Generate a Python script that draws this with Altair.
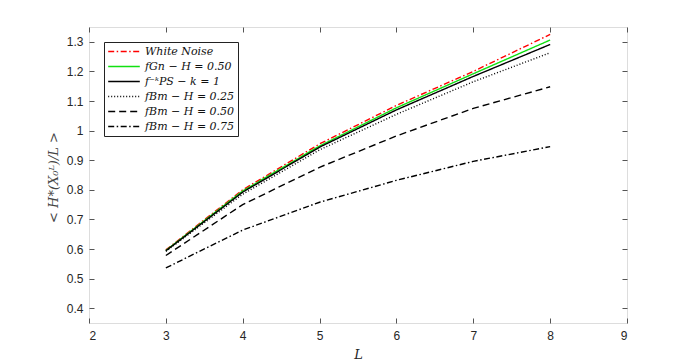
import altair as alt
import pandas as pd

L = [3, 4, 5, 6, 7, 8]
series = [
    "White Noise",
    "fGn − H = 0.50",
    "f⁻ᵏPS − k = 1",
    "fBm − H = 0.25",
    "fBm − H = 0.50",
    "fBm − H = 0.75",
]
white = [0.597, 0.800, 0.955, 1.085, 1.200, 1.325]
fgn = [0.595, 0.796, 0.948, 1.077, 1.192, 1.306]
fkps = [0.594, 0.792, 0.944, 1.070, 1.183, 1.291]
fbm25 = [0.592, 0.785, 0.935, 1.055, 1.165, 1.263]
fbm50 = [0.578, 0.750, 0.876, 0.982, 1.075, 1.148]
fbm75 = [0.536, 0.664, 0.758, 0.832, 0.896, 0.946]
values = [white, fgn, fkps, fbm25, fbm50, fbm75]

xticks = [2, 3, 4, 5, 6, 7, 8, 9]
yticks = [0.4, 0.5, 0.6, 0.7, 0.8, 0.9, 1.0, 1.1, 1.2, 1.3]

colors = ["#ff0000", "#11e011", "#000000", "#000000", "#000000", "#000000"]
dashes = [[6, 2.5, 1.5, 2.5], [1, 0], [1, 0], [1, 2], [7, 4], [6, 2.5, 1.5, 2.5]]

rows = []
for name, vals in zip(series, values):
    for l, v in zip(L, vals):
        rows.append({"L": l, "H": v, "series": name})
df = pd.DataFrame(rows)

tickfont = "Liberation Sans"
tickcolor = "#262626"

xscale = alt.Scale(domain=[2, 9], nice=False, zero=False)
yscale = alt.Scale(domain=[0.35, 1.35], nice=False, zero=False)

legend_kw = dict(title=None, orient="none", legendX=15, legendY=15,
                 symbolType="stroke", symbolSize=1000,
                 symbolStrokeWidth=1.5, labelFont="DejaVu Serif",
                 labelFontStyle="italic", labelFontSize=11,
                 labelColor="#111111",
                 strokeColor="#222222", fillColor="white",
                 padding=3, rowPadding=2, clipHeight=13,
                 labelOffset=4)

lines = alt.Chart(df).mark_line(strokeWidth=1.4).encode(
    x=alt.X("L:Q", scale=xscale,
            axis=alt.Axis(values=xticks, title="L", grid=False, domain=False,
                          tickSize={"expr": "-5"}, tickColor="#555555",
                          labelPadding=12, labelFont=tickfont, labelFontSize=12,
                          labelColor=tickcolor, titleFont="DejaVu Serif",
                          titleFontStyle="italic", titleFontWeight="normal",
                          titleFontSize=13, titleColor=tickcolor,
                          titleY=35, titleBaseline="alphabetic")),
    y=alt.Y("H:Q", scale=yscale,
            axis=alt.Axis(values=yticks, title="< H*(X₀ᴸ)/L >", grid=False, domain=False,
                          format=".1~f",
                          tickSize={"expr": "-5"}, tickColor="#555555",
                          labelPadding=11, labelFont=tickfont, labelFontSize=12,
                          labelColor=tickcolor, titleFont="DejaVu Serif",
                          titleFontStyle="italic", titleFontWeight="normal",
                          titleFontSize=13, titleColor="#444444",
                          titleX=-29, titleY=150, titleAngle=-90,
                          titleBaseline="bottom", titleAlign="center")),
    color=alt.Color("series:N", sort=series,
                    scale=alt.Scale(domain=series, range=colors),
                    legend=alt.Legend(**legend_kw)),
    strokeDash=alt.StrokeDash("series:N", sort=series,
                              scale=alt.Scale(domain=series, range=dashes),
                              legend=alt.Legend(**legend_kw)),
    order=alt.Order("L:Q"),
)

tickdf = pd.DataFrame({"L": [2, 9], "H": [0.35, 1.35]})
frame = alt.Chart(tickdf).mark_point(opacity=0).encode(
    x=alt.X("L:Q", scale=xscale,
            axis=alt.Axis(orient="top", values=xticks, labels=False, title=None, grid=False,
                          domain=False, tickSize={"expr": "-5"}, tickColor="#555555")),
    y=alt.Y("H:Q", scale=yscale,
            axis=alt.Axis(orient="right", values=yticks, labels=False, title=None, grid=False,
                          domain=False, tickSize={"expr": "-5"}, tickColor="#555555")),
)

chart = alt.layer(lines, frame).resolve_axis(x="independent", y="independent").properties(
    width=538, height=296,
    autosize=alt.AutoSizeParams(type="none"),
    padding={"left": 81, "top": 19, "right": 58, "bottom": 40},
).configure_view(stroke="#555555", strokeWidth=1).configure(background="white")

chart.save("out.html", embed_options={"renderer": "svg", "actions": False})
